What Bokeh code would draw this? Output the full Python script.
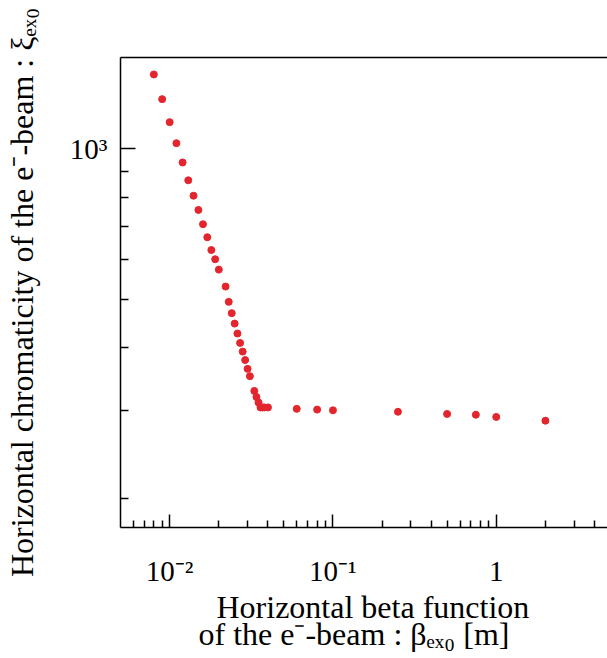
from bokeh.plotting import figure
from bokeh.models import LogAxis, FixedTicker, Range1d, Title
from bokeh.embed import file_html
from bokeh.resources import INLINE

# ---- data ----
beta = [0.008, 0.009, 0.010, 0.011, 0.012, 0.013, 0.014, 0.015, 0.016, 0.017,
        0.018, 0.019, 0.020, 0.022, 0.023, 0.024, 0.025, 0.026, 0.027, 0.028,
        0.029, 0.030, 0.031, 0.033, 0.034, 0.035, 0.036, 0.037, 0.038, 0.040,
        0.060, 0.080, 0.100, 0.25, 0.50, 0.75, 1.0, 2.0]
xi = [1406, 1255, 1129, 1025, 938, 864, 805, 754, 706, 665,
      627, 601, 573, 530, 494, 469, 447, 427, 409, 393,
      378, 363, 351, 328, 319, 311, 304, 304, 304, 304,
      302, 301, 300, 298, 295, 294, 291, 286]

x_major = [0.01, 0.1, 1.0]
x_major_labels = ["10\u207b\u00b2", "10\u207b\u00b9", "1"]
x_minor = [0.006, 0.007, 0.008, 0.009,
           0.02, 0.03, 0.04, 0.05, 0.06, 0.07, 0.08, 0.09,
           0.2, 0.3, 0.4, 0.5, 0.6, 0.7, 0.8, 0.9,
           2.0, 3.0, 4.0]
y_major = [1000.0]
y_major_labels = ["10\u00b3"]
y_minor = [200.0, 300.0, 400.0, 500.0, 600.0, 700.0, 800.0, 900.0]

x_title_1 = "Horizontal beta function"
x_title_2 = "of the e\u207b-beam : \u03b2\u2091\u2093\u2080 [m]"
y_title = "Horizontal chromaticity of the e\u207b-beam : \u03be\u2091\u2093\u2080"

FONT = "Liberation Serif"
RED = "#e3262e"

p = figure(width=607, height=658,
           x_axis_type="log", y_axis_type="log",
           x_range=Range1d(0.005, 4.8), y_range=Range1d(175, 1520),
           output_backend="svg", toolbar_location=None,
           min_border_left=120, min_border_right=0,
           min_border_top=57, min_border_bottom=131)
p.outline_line_color = None
p.xgrid.visible = False
p.ygrid.visible = False
p.background_fill_color = "white"
p.border_fill_color = "white"

p.scatter(beta, xi, size=7, color=RED, line_color=RED)

xa = p.xaxis[0]
xa.ticker = FixedTicker(ticks=x_major, minor_ticks=x_minor)
xa.major_label_overrides = dict(zip(x_major, x_major_labels))
xa.major_tick_in = 13
xa.major_tick_out = 0
xa.minor_tick_in = 7
xa.minor_tick_out = 0
xa.major_label_standoff = 27
xa.major_label_text_font = FONT
xa.major_label_text_font_size = "29px"
xa.major_label_text_color = "black"
for prop in ("axis_line", "major_tick_line", "minor_tick_line"):
    setattr(xa, prop + "_width", 1.5)
    setattr(xa, prop + "_color", "black")

ya = p.yaxis[0]
ya.ticker = FixedTicker(ticks=y_major, minor_ticks=y_minor)
ya.major_label_overrides = dict(zip(y_major, y_major_labels))
ya.major_tick_in = 15
ya.major_tick_out = 0
ya.minor_tick_in = 8
ya.minor_tick_out = 0
ya.major_label_standoff = 13
ya.major_label_text_font = FONT
ya.major_label_text_font_size = "29px"
ya.major_label_text_color = "black"
ya.axis_label = y_title
ya.axis_label_text_font = FONT
ya.axis_label_text_font_size = "32px"
ya.axis_label_text_font_style = "normal"
ya.axis_label_text_color = "black"
ya.axis_label_standoff = 27
for prop in ("axis_line", "major_tick_line", "minor_tick_line"):
    setattr(ya, prop + "_width", 1.5)
    setattr(ya, prop + "_color", "black")

top = LogAxis(ticker=FixedTicker(ticks=[], minor_ticks=[]),
              major_tick_in=0, major_tick_out=0,
              minor_tick_in=0, minor_tick_out=0,
              axis_line_width=1.5, axis_line_color="black",
              major_label_text_font_size="0px")
p.add_layout(top, "above")

# x-axis title, two lines
t1 = Title(text=x_title_1, align="left", offset=96, standoff=-5,
           text_font=FONT, text_font_size="32px", text_font_style="normal",
           text_color="black")
t2 = Title(text=x_title_2, align="left", offset=78, standoff=-18,
           text_font=FONT, text_font_size="32px", text_font_style="normal",
           text_color="black")
p.add_layout(t1, "below")
p.add_layout(t2, "below")

open("out.html", "w").write(file_html(p, INLINE))
